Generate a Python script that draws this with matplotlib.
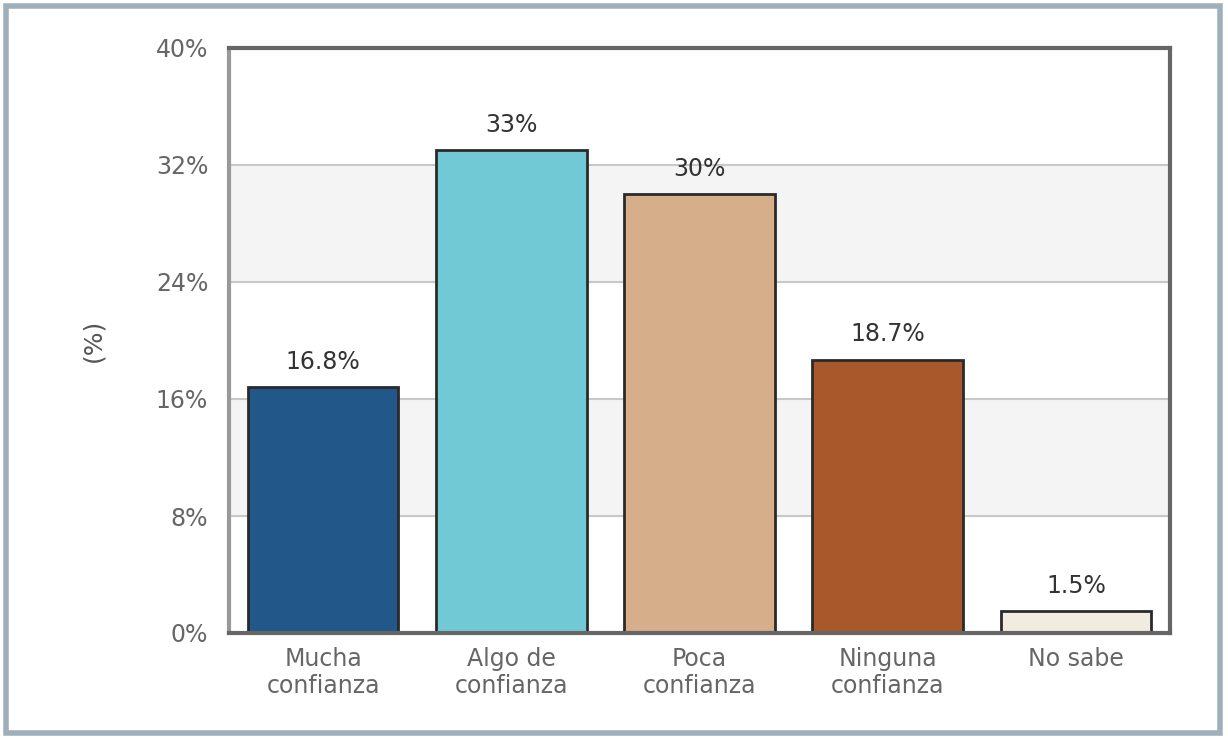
import matplotlib.pyplot as plt
from matplotlib.patches import Rectangle

plt.rcParams["font.family"] = ["DejaVu Sans"]

categories = ["Mucha\nconfianza", "Algo de\nconfianza", "Poca\nconfianza", "Ninguna\nconfianza", "No sabe"]
values = [16.8, 33, 30, 18.7, 1.5]
value_labels = ["16.8%", "33%", "30%", "18.7%", "1.5%"]
colors = ["#22578a", "#72c9d6", "#d6ae8a", "#a8582a", "#f2ece0"]
yticks = [0, 8, 16, 24, 32, 40]

fig = plt.figure(figsize=(12.28, 7.38), dpi=100)
ax = fig.add_axes([229 / 1228, 1 - 633 / 738, 941 / 1228, 585 / 738])

# alternating background bands
for i, lo in enumerate(yticks[:-1]):
    if i % 2 == 1:
        ax.axhspan(lo, lo + 8, color="#f4f4f4", zorder=0)
for t in yticks[1:-1]:
    ax.axhline(t, color="#c8c8c8", linewidth=1.5, zorder=1)

x = range(len(categories))
ax.bar(x, values, width=0.8, color=colors, edgecolor="#2a2a2a", linewidth=2, zorder=2)
for xi, v, lab in zip(x, values, value_labels):
    ax.text(xi, v + 0.9, lab, ha="center", va="bottom", fontsize=17,
            color="#333333", zorder=3)

ax.set_xlim(-0.5, len(categories) - 0.5)
ax.set_ylim(0, 40)
ax.set_yticks(yticks)
ax.set_yticklabels([f"{t}%" for t in yticks])
ax.set_xticks(list(x))
ax.set_xticklabels(categories, linespacing=1.15)
ax.tick_params(axis="both", length=0, labelsize=17, labelcolor="#666666")
ax.tick_params(axis="y", pad=15)
ax.tick_params(axis="x", pad=10)
ax.set_ylabel("(%)", fontsize=18, color="#555555", labelpad=36)
for side, spine in ax.spines.items():
    spine.set_color("#666666")
    spine.set_linewidth(3)
ax.spines["left"].set_color("#999999")

# outer frame
fig.patches.append(Rectangle((6 / 1228, 5 / 738), 1214 / 1228, 727 / 738,
                             transform=fig.transFigure, fill=False,
                             edgecolor="#9fb0ba", linewidth=4))

fig.savefig("out.png", dpi=100)
